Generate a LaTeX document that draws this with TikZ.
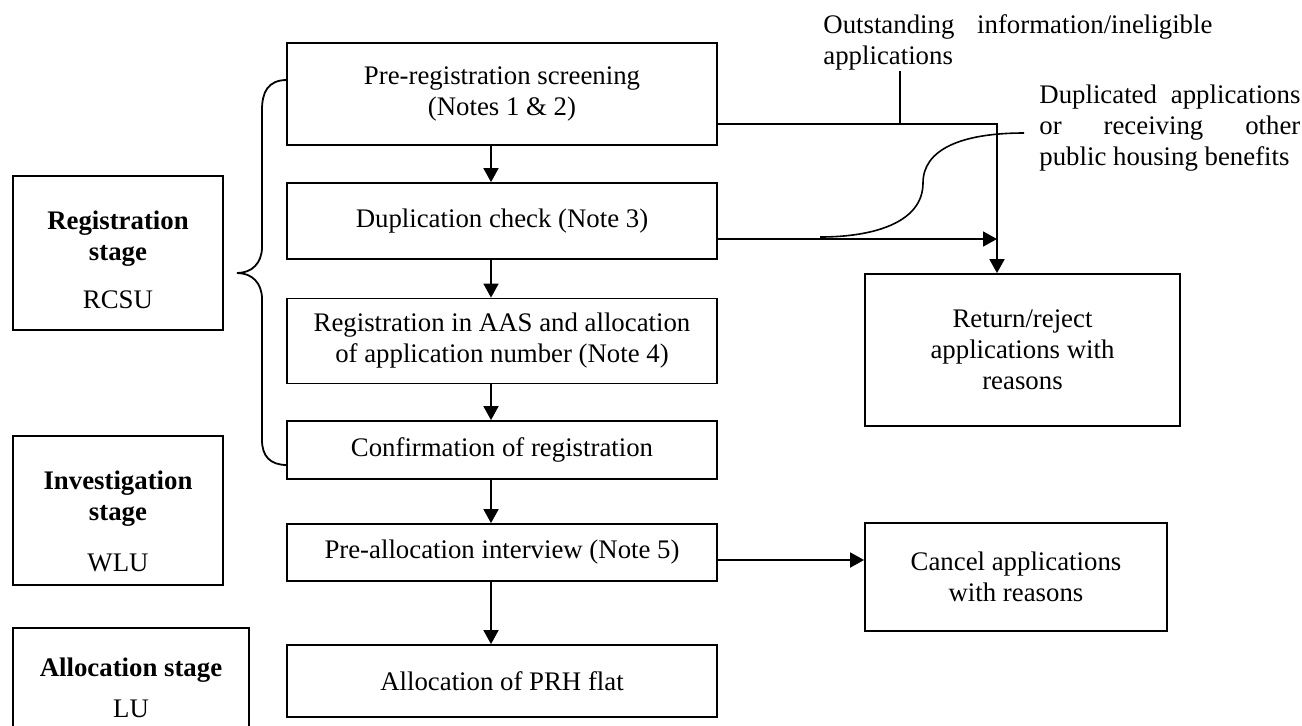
\documentclass[tikz,border=0pt]{standalone}
\usepackage{fontspec}
\setmainfont{Liberation Serif}
\usetikzlibrary{arrows.meta}
\begin{document}
\begin{tikzpicture}[x=0.5pt,y=-0.5pt,
  every node/.style={font=\fontsize{13.4pt}{15.5pt}\selectfont},
  box/.style={draw, line width=0.9pt, align=center, inner sep=0pt, minimum width=215pt},
  stagebox/.style={draw, line width=0.9pt, minimum width=105pt, inner sep=0pt},
  txt/.style={align=center, inner sep=0pt},
  conn/.style={line width=0.9pt},
  arr/.style={conn, -{Triangle[length=7pt,width=7.5pt]}}]
\path[use as bounding box] (0,0) rectangle (1302,725);
\clip (0,0) rectangle (1302,725);

% main flow
\node[box, minimum height=51pt] (b1) at (502,94) {Pre-registration screening\\(Notes 1 \& 2)};
\node[box, minimum height=38pt] (b2) at (502,221) {Duplication check (Note 3)};
\node[box, minimum height=42.5pt] (b3) at (502,341) {Registration in AAS and allocation\\of application number (Note 4)};
\node[box, minimum height=29pt] (b4) at (502,450) {Confirmation of registration};
\node[box, minimum height=28.5pt] (b5) at (502,552.5) {Pre-allocation interview (Note 5)};
\node[box, minimum height=36pt] (b6) at (502,681) {Allocation of PRH flat};

% stage boxes
\node[stagebox, minimum height=77pt] (reg) at (118,253) {};
\node[txt] (regt) at (118,260) {\textbf{Registration}\\\textbf{stage}\\[8.5pt]RCSU};
\node[stagebox, minimum height=74.5pt] (inv) at (118,510.5) {};
\node[txt] (invt) at (118,521) {\textbf{Investigation}\\\textbf{stage}\\[10pt]WLU};
\node[stagebox, minimum width=118pt, minimum height=59.5pt] (alloc) at (131,687.5) {};
\node[txt] (alloct) at (131,687.5) {\textbf{Allocation stage}\\[5pt]LU};

% outcome boxes
\node[box, minimum width=157.5pt, minimum height=76pt] (ret) at (1022.5,350) {Return/reject\\applications with\\reasons};
\node[box, minimum width=151pt, minimum height=54pt] (can) at (1016,577) {Cancel applications\\with reasons};

% labels
\node[anchor=west, align=left, inner sep=0pt] (lab1) at (823,42.5) {\makebox[194.5pt][s]{Outstanding information/ineligible}\\applications};
\node[anchor=west, align=left, inner sep=0pt] (lab2) at (1039,128.5) {\makebox[130.5pt][s]{Duplicated applications}\\\makebox[130.5pt][s]{or receiving other}\\public housing benefits};

% helper coordinates
\coordinate (ax) at (491,0);
\coordinate (vx) at (997,0);
\coordinate (lx) at (900,0);
\coordinate (y124) at (0,124);
\coordinate (y239) at (0,239);
\coordinate (y560) at (0,560);
\coordinate (cs) at (1024,133);
\coordinate (ce) at (820,237);
\coordinate (bt) at (287,80);
\coordinate (bb) at (287,465);

% vertical flow arrows
\draw[arr] (b1.south -| ax) -- (b2.north -| ax);
\draw[arr] (b2.south -| ax) -- (b3.north -| ax);
\draw[arr] (b3.south -| ax) -- (b4.north -| ax);
\draw[arr] (b4.south -| ax) -- (b5.north -| ax);
\draw[arr] (b5.south -| ax) -- (b6.north -| ax);

% reject paths
\draw[arr] (b1.east |- y124) -- (vx |- y124) -- (ret.north -| vx);
\draw[arr] (b2.east |- y239) -- (vx |- y239);
\draw[conn] (lab1.south -| lx) -- (lx |- y124);
\draw[conn, line width=0.8pt] (cs) .. controls (960,133) and (923,150) .. (923,183) .. controls (923,222) and (875,237) .. (ce);
\draw[arr] (b5.east |- y560) -- (can.west |- y560);

% brace
\draw[conn] (bt) .. controls (268,80) and (262,92) .. (262,110) -- (262,247) .. controls (262,263) and (252,273) .. (237,273) .. controls (252,273) and (262,283) .. (262,299) -- (262,440) .. controls (262,456) and (270,465) .. (bb);
\end{tikzpicture}
\end{document}
